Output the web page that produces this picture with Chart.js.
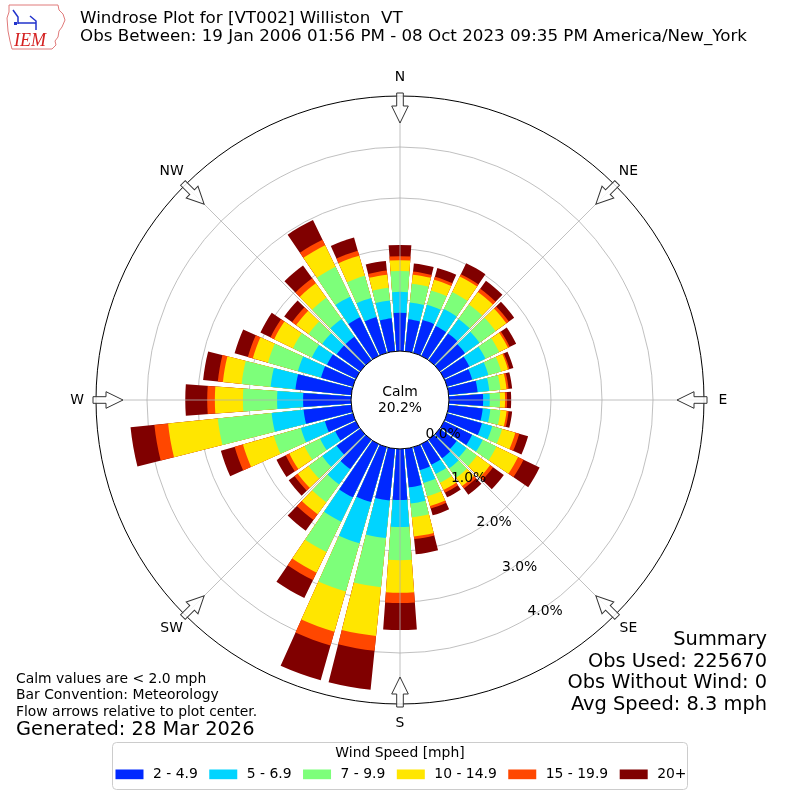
<!DOCTYPE html>
<html>
<head>
<meta charset="utf-8">
<script src="https://cdn.jsdelivr.net/npm/chart.js@4.4.1/dist/chart.umd.min.js"></script>
<style>
  html, body { margin: 0; padding: 0; background: #fff; }
  #wrap { width: 800px; height: 800px; }
</style>
</head>
<body>
<div id="wrap"><canvas id="rose" width="800" height="800"></canvas></div>
<script>
// wind directions (degrees, meteorological) and the speed bins
const directions = [0, 10, 20, 30, 40, 50, 60, 70, 80, 90, 100, 110, 120, 130, 140, 150, 160, 170,
                    180, 190, 200, 210, 220, 230, 240, 250, 260, 270, 280, 290, 300, 310, 320, 330, 340, 350];
const speedBins = ['2 - 4.9', '5 - 6.9', '7 - 9.9', '10 - 14.9', '15 - 19.9', '20+'];
const binColors = ['#0028ff', '#00d4ff', '#7dff7a', '#ffe600', '#ff4700', '#800000'];

// frequency (%) of each speed bin per direction
const speed2to5 = [0.75, 0.63, 0.67, 0.65, 0.65, 0.61, 0.55, 0.51, 0.57, 0.67, 0.67, 0.71, 0.61, 0.41, 0.45, 0.45, 0.47, 0.76,
                   1.00, 1.02, 1.12, 1.16, 0.71, 0.57, 0.45, 0.57, 0.94, 0.94, 1.10, 0.65, 0.63, 0.57, 0.57, 0.84, 0.73, 0.65];
const speed5to7 = [0.41, 0.33, 0.31, 0.37, 0.35, 0.35, 0.35, 0.33, 0.23, 0.13, 0.15, 0.21, 0.23, 0.24, 0.24, 0.20, 0.26, 0.32,
                   0.53, 0.74, 0.84, 0.53, 0.37, 0.35, 0.33, 0.49, 0.63, 0.51, 0.49, 0.47, 0.33, 0.35, 0.43, 0.45, 0.39, 0.35];
const speed7to10 = [0.41, 0.37, 0.29, 0.37, 0.35, 0.39, 0.30, 0.26, 0.22, 0.20, 0.20, 0.20, 0.30, 0.25, 0.23, 0.19, 0.27, 0.27,
                    0.65, 0.97, 0.98, 0.66, 0.43, 0.33, 0.34, 0.55, 1.06, 0.67, 0.57, 0.61, 0.41, 0.33, 0.51, 0.65, 0.45, 0.25];
const speed10to15 = [0.21, 0.18, 0.22, 0.34, 0.30, 0.26, 0.19, 0.14, 0.12, 0.10, 0.12, 0.27, 0.47, 0.32, 0.20, 0.16, 0.20, 0.38,
                     0.64, 0.96, 0.82, 0.45, 0.29, 0.26, 0.33, 0.63, 0.98, 0.55, 0.37, 0.31, 0.41, 0.30, 0.35, 0.47, 0.41, 0.26];
const speed15to20 = [0.08, 0.06, 0.06, 0.05, 0.08, 0.06, 0.04, 0.03, 0.04, 0.04, 0.04, 0.08, 0.12, 0.07, 0.06, 0.06, 0.05, 0.05,
                     0.20, 0.29, 0.28, 0.16, 0.14, 0.08, 0.08, 0.17, 0.27, 0.15, 0.10, 0.10, 0.08, 0.10, 0.12, 0.12, 0.10, 0.08];
const speed20plus = [0.22, 0.16, 0.18, 0.24, 0.19, 0.13, 0.14, 0.08, 0.07, 0.08, 0.07, 0.18, 0.35, 0.26, 0.15, 0.10, 0.14, 0.30,
                     0.53, 0.77, 0.71, 0.39, 0.26, 0.14, 0.20, 0.28, 0.47, 0.43, 0.29, 0.27, 0.22, 0.19, 0.31, 0.43, 0.27, 0.19];
const speedSeries = [speed2to5, speed5to7, speed7to10, speed10to15, speed15to20, speed20plus];

const radialTicks = [0, 1, 2, 3, 4];
const radialMin = -0.96;
const radialMax = 5;
const calmPct = 20.2;
const compassLabels = ['N', 'NE', 'E', 'SE', 'S', 'SW', 'W', 'NW'];

const titleLines = ['Windrose Plot for [VT002] Williston  VT',
                    'Obs Between: 19 Jan 2006 01:56 PM - 08 Oct 2023 09:35 PM America/New_York'];
const noteLines = ['Calm values are < 2.0 mph', 'Bar Convention: Meteorology', 'Flow arrows relative to plot center.'];
const generatedLine = 'Generated: 28 Mar 2026';
const summaryLines = ['Summary', 'Obs Used: 225670', 'Obs Without Wind: 0', 'Avg Speed: 8.3 mph'];

const barDeg = 8.4;
const gapDeg = 10 - barDeg;
const FONT = "'DejaVu Sans', 'Liberation Sans', sans-serif";

// each bar is followed by an empty gap slot; stacking is done by cumulative sums,
// the outermost bin is drawn first and the inner ones over it
const slotLabels = [];
directions.forEach(d => { slotLabels.push(d + '°'); slotLabels.push(''); });

const datasets = speedSeries.map((series, j) => {
  const data = [];
  directions.forEach((d, i) => {
    let cum = 0;
    for (let k = 0; k <= j; k++) cum += speedSeries[k][i];
    data.push(cum);
    data.push(radialMin);
  });
  return {
    label: speedBins[j],
    data,
    backgroundColor: binColors[j],
    borderWidth: 0,
    angle: c => (c.dataIndex % 2 ? gapDeg : barDeg)
  };
});

function polar(s, bearing, r) {
  const a = (bearing - 90) * Math.PI / 180;
  return [s.xCenter + r * Math.cos(a), s.yCenter + r * Math.sin(a)];
}

function drawArrow(ctx, s, bearing, rOut) {
  ctx.save();
  ctx.translate(s.xCenter, s.yCenter);
  ctx.rotate(bearing * Math.PI / 180);
  const tail = -(rOut + 3), neck = -(rOut - 10), tip = -(rOut - 27);
  ctx.beginPath();
  ctx.moveTo(-3.3, tail);
  ctx.lineTo(3.3, tail);
  ctx.lineTo(3.3, neck);
  ctx.lineTo(8.3, neck);
  ctx.lineTo(0, tip);
  ctx.lineTo(-8.3, neck);
  ctx.lineTo(-3.3, neck);
  ctx.closePath();
  ctx.fillStyle = 'rgba(255,255,255,0.85)';
  ctx.fill();
  ctx.strokeStyle = '#333';
  ctx.lineWidth = 1;
  ctx.stroke();
  ctx.restore();
}

function drawLogo(ctx) {
  ctx.save();
  ctx.strokeStyle = '#e07a7a';
  ctx.lineWidth = 1;
  const outline = [[9, 5], [58, 5], [59, 10], [63, 14], [65, 20], [62, 27], [59, 31], [58, 37], [55, 41],
                   [56, 45], [52, 49], [12, 49], [10, 41], [8, 31], [7, 18], [9, 12]];
  ctx.beginPath();
  outline.forEach((p, i) => (i ? ctx.lineTo(p[0], p[1]) : ctx.moveTo(p[0], p[1])));
  ctx.closePath();
  ctx.stroke();
  ctx.strokeStyle = '#2233cc';
  ctx.fillStyle = '#2233cc';
  ctx.lineWidth = 1.5;
  ctx.beginPath();
  ctx.moveTo(13, 10); ctx.lineTo(18, 17); ctx.lineTo(18, 24);
  ctx.moveTo(18, 23); ctx.lineTo(36, 23);
  ctx.moveTo(30, 16); ctx.lineTo(36, 21); ctx.lineTo(36, 30);
  ctx.stroke();
  ctx.fillRect(14, 22, 3, 3);
  ctx.fillStyle = '#d42020';
  ctx.font = "italic 18px 'Liberation Serif', serif";
  ctx.textAlign = 'left';
  ctx.textBaseline = 'alphabetic';
  ctx.fillText('IEM', 14, 46);
  ctx.restore();
}

function drawLegend(ctx) {
  ctx.save();
  ctx.beginPath();
  ctx.roundRect(112.5, 742.5, 575, 47, 4);
  ctx.fillStyle = 'rgba(255,255,255,0.8)';
  ctx.fill();
  ctx.strokeStyle = '#cccccc';
  ctx.lineWidth = 1;
  ctx.stroke();
  ctx.font = '13.9px ' + FONT;
  ctx.fillStyle = '#000';
  ctx.textAlign = 'center';
  ctx.textBaseline = 'middle';
  ctx.fillText('Wind Speed [mph]', 400, 753);
  const handle = 28, pad = 9.5, spacing = 11.5;
  const widths = speedBins.map(t => ctx.measureText(t).width);
  const total = widths.reduce((a, b) => a + b, 0) + speedBins.length * (handle + pad) + (speedBins.length - 1) * spacing;
  let x = 401 - total / 2;
  ctx.textAlign = 'left';
  speedBins.forEach((t, i) => {
    ctx.fillStyle = binColors[i];
    ctx.fillRect(x, 769.5, handle, 9.7);
    x += handle + pad;
    ctx.fillStyle = '#000';
    ctx.fillText(t, x, 774.5);
    x += widths[i] + spacing;
  });
  ctx.restore();
}

const roseDecor = {
  id: 'roseDecor',
  afterDatasetsDraw(chart) {
    const s = chart.scales.r, ctx = chart.ctx;
    const r0 = s.getDistanceFromCenterForValue(0);
    const r1 = s.getDistanceFromCenterForValue(radialMax);
    ctx.save();
    ctx.strokeStyle = '#b0b0b0';
    ctx.lineWidth = 0.8;
    compassLabels.forEach((lab, i) => {
      const p0 = polar(s, i * 45, r0), p1 = polar(s, i * 45, r1);
      ctx.beginPath();
      ctx.moveTo(p0[0], p0[1]);
      ctx.lineTo(p1[0], p1[1]);
      ctx.stroke();
    });
    ctx.restore();
  },
  afterDraw(chart) {
    const s = chart.scales.r, ctx = chart.ctx;
    const r0 = s.getDistanceFromCenterForValue(0);
    const rOut = s.getDistanceFromCenterForValue(radialMax);
    ctx.save();

    // calm circle
    ctx.beginPath();
    ctx.arc(s.xCenter, s.yCenter, r0, 0, Math.PI * 2);
    ctx.fillStyle = '#fff';
    ctx.fill();
    ctx.strokeStyle = '#000';
    ctx.lineWidth = 1;
    ctx.stroke();
    ctx.fillStyle = '#000';
    ctx.font = '13.9px ' + FONT;
    ctx.textAlign = 'center';
    ctx.textBaseline = 'middle';
    ctx.fillText('Calm', s.xCenter, s.yCenter - 8);
    ctx.fillText(calmPct.toFixed(1) + '%', s.xCenter, s.yCenter + 8);

    // radial tick labels along 150 degrees
    ctx.textAlign = 'left';
    radialTicks.forEach(v => {
      const p = polar(s, 150, s.getDistanceFromCenterForValue(v));
      ctx.fillText(v.toFixed(1) + '%', p[0] + 1, p[1] - 8);
    });

    // flow arrows and compass labels
    compassLabels.forEach((lab, i) => {
      drawArrow(ctx, s, i * 45, rOut);
      const p = polar(s, i * 45, rOut + 19);
      ctx.fillStyle = '#000';
      ctx.textAlign = 'center';
      ctx.textBaseline = 'middle';
      ctx.font = '13.9px ' + FONT;
      ctx.fillText(lab, p[0], p[1]);
    });

    // header
    drawLogo(ctx);
    ctx.fillStyle = '#000';
    ctx.textAlign = 'left';
    ctx.textBaseline = 'middle';
    ctx.font = '16.7px ' + FONT;
    ctx.fillText(titleLines[0], 80, 19);
    ctx.fillText(titleLines[1], 80, 37);

    // notes bottom left
    ctx.font = '13.9px ' + FONT;
    noteLines.forEach((t, i) => ctx.fillText(t, 16, 679 + i * 16.6));
    ctx.font = '19.4px ' + FONT;
    ctx.fillText(generatedLine, 16, 730);

    // summary bottom right
    ctx.textAlign = 'right';
    ctx.font = '19.4px ' + FONT;
    summaryLines.forEach((t, i) => ctx.fillText(t, 767, 640 + i * 21.7));

    drawLegend(ctx);
    ctx.restore();
  }
};

new Chart(document.getElementById('rose'), {
  type: 'polarArea',
  data: { labels: slotLabels, datasets },
  options: {
    responsive: false,
    animation: false,
    events: [],
    layout: { padding: 96 },
    plugins: { legend: { display: false }, tooltip: { enabled: false } },
    scales: {
      r: {
        min: radialMin,
        max: radialMax,
        startAngle: -barDeg / 2,
        z: 1,
        afterBuildTicks: sc => { sc.ticks = radialTicks.concat([radialMax]).map(v => ({ value: v })); },
        ticks: { display: false },
        grid: {
          circular: true,
          color: c => (c.tick && c.tick.value === radialMax ? '#000' : '#b0b0b0'),
          lineWidth: c => (c.tick && c.tick.value === radialMax ? 1 : 0.8)
        },
        angleLines: { display: false },
        pointLabels: { display: false }
      }
    }
  },
  plugins: [roseDecor]
});
</script>
</body>
</html>
